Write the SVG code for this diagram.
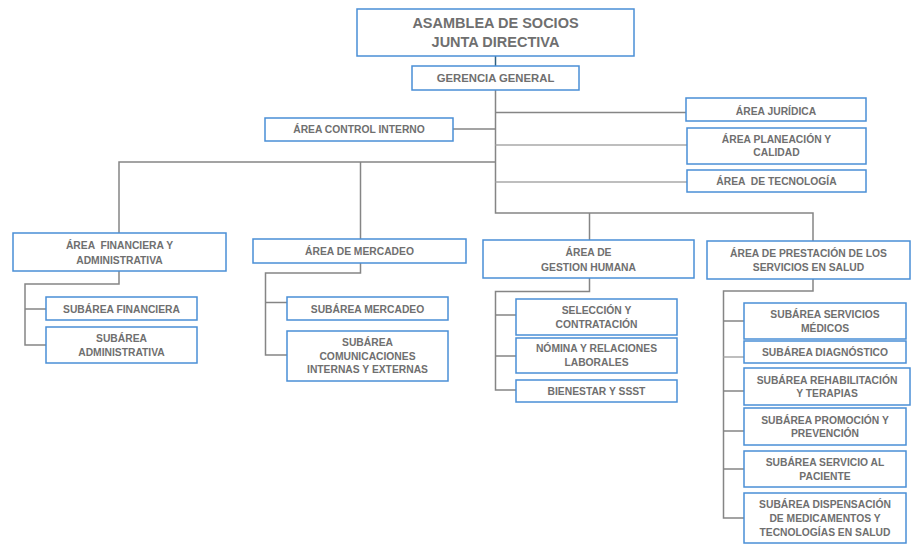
<svg xmlns="http://www.w3.org/2000/svg" width="911" height="544" viewBox="0 0 911 544">
<style>
.b{fill:#fff;stroke:#4A8FD6;stroke-width:1.5}
text{font-family:"Liberation Sans",Arial,sans-serif;font-weight:bold;fill:#6F6F6F;text-anchor:middle;font-size:10.3px}
.big{font-size:14.5px}
.mid{font-size:11.3px}
.c{fill:none;stroke:#858585;stroke-width:1.5}
.cl{fill:none;stroke:#A8A8A8;stroke-width:1.5}
.cd{fill:none;stroke:#2F5F7F;stroke-width:1.5}
</style>
<rect width="911" height="544" fill="#fff"/>
<g id="connectors">
<path class="cd" d="M495.5 56V66"/>
<path class="c" d="M495.5 90V213H813V241"/>
<path class="c" d="M495.5 112.5H686"/>
<path class="c" d="M453 129H495.5"/>
<path class="cl" d="M495.5 145H687"/>
<path class="cl" d="M495.5 182H687"/>
<path class="c" d="M495.5 162H119V233"/>
<path class="c" d="M360.5 162V239"/>
<path class="c" d="M589.5 213V240"/>
<path class="c" d="M119 271V284H25V345H46"/>
<path class="c" d="M25 309H46"/>
<path class="c" d="M360.5 263V273H265.5V355H287"/>
<path class="c" d="M265.5 302.5H287"/>
<path class="c" d="M589.5 278V291.5H495.5V390H516"/>
<path class="c" d="M495.5 315H516"/>
<path class="c" d="M495.5 356H516"/>
<path class="c" d="M813 279V291H723.5V518H744"/>
<path class="c" d="M723.5 321H744"/>
<path class="cl" d="M723.5 357H744"/>
<path class="c" d="M723.5 391H744"/>
<path class="c" d="M723.5 431H744"/>
<path class="c" d="M723.5 469H744"/>
</g>
<g id="asamblea"><rect class="b" x="357" y="9" width="277" height="47"/><text class="big" x="495.5" y="28">ASAMBLEA DE SOCIOS</text><text class="big" x="495.5" y="47">JUNTA DIRECTIVA</text></g>
<g id="gerencia"><rect class="b" x="412" y="66" width="167" height="24"/><text class="mid" x="495.5" y="82">GERENCIA GENERAL</text></g>
<g id="control"><rect class="b" x="265" y="118" width="188" height="23"/><text x="359" y="133">ÁREA CONTROL INTERNO</text></g>
<g id="juridica"><rect class="b" x="686" y="98" width="180" height="23"/><text x="776" y="114.5">ÁREA JURÍDICA</text></g>
<g id="planeacion"><rect class="b" x="687" y="128" width="179" height="36"/><text x="776.5" y="142.5">ÁREA PLANEACIÓN Y</text><text x="776.5" y="156">CALIDAD</text></g>
<g id="tecnologia"><rect class="b" x="687" y="170" width="179" height="22"/><text x="776.5" y="185" xml:space="preserve">ÁREA  DE TECNOLOGÍA</text></g>
<g id="financiera"><rect class="b" x="13" y="233" width="213" height="38"/><text x="119.5" y="249" xml:space="preserve">ÁREA  FINANCIERA Y</text><text x="119.5" y="264">ADMINISTRATIVA</text></g>
<g id="mercadeo"><rect class="b" x="253" y="239" width="213" height="24"/><text x="359.5" y="255">ÁREA DE MERCADEO</text></g>
<g id="gestion"><rect class="b" x="483" y="240" width="211" height="38"/><text x="588.5" y="256">ÁREA DE</text><text x="588.5" y="271">GESTION HUMANA</text></g>
<g id="prestacion"><rect class="b" x="707" y="241" width="203" height="38"/><text x="808.5" y="257">ÁREA DE PRESTACIÓN DE LOS</text><text x="808.5" y="271">SERVICIOS EN SALUD</text></g>
<g id="sub-financiera"><rect class="b" x="46" y="297" width="151" height="23"/><text x="121.5" y="313">SUBÁREA FINANCIERA</text></g>
<g id="sub-administrativa"><rect class="b" x="46" y="327" width="151" height="36"/><text x="121.5" y="341.5">SUBÁREA</text><text x="121.5" y="355.5">ADMINISTRATIVA</text></g>
<g id="sub-mercadeo"><rect class="b" x="287" y="297" width="161" height="23"/><text x="367.5" y="312.5">SUBÁREA MERCADEO</text></g>
<g id="sub-comunicaciones"><rect class="b" x="287" y="331" width="161" height="50"/><text x="367.5" y="345.5">SUBÁREA</text><text x="367.5" y="359.5">COMUNICACIONES</text><text x="367.5" y="373">INTERNAS Y EXTERNAS</text></g>
<g id="seleccion"><rect class="b" x="516" y="299" width="161" height="36"/><text x="596.5" y="314">SELECCIÓN Y</text><text x="596.5" y="327.5">CONTRATACIÓN</text></g>
<g id="nomina"><rect class="b" x="516" y="338" width="161" height="35"/><text x="596.5" y="351.5">NÓMINA Y RELACIONES</text><text x="596.5" y="365.5">LABORALES</text></g>
<g id="bienestar"><rect class="b" x="516" y="380" width="161" height="22"/><text x="596.5" y="394.5">BIENESTAR Y SSST</text></g>
<g id="servicios-medicos"><rect class="b" x="744" y="303" width="162" height="36"/><text x="825" y="318">SUBÁREA SERVICIOS</text><text x="825" y="332">MÉDICOS</text></g>
<g id="diagnostico"><rect class="b" x="744" y="341" width="162" height="22"/><text x="825" y="355.5">SUBÁREA DIAGNÓSTICO</text></g>
<g id="rehabilitacion"><rect class="b" x="744" y="368" width="166" height="37"/><text x="827" y="384">SUBÁREA REHABILITACIÓN</text><text x="827" y="396.5">Y TERAPIAS</text></g>
<g id="promocion"><rect class="b" x="744" y="408" width="162" height="37"/><text x="825" y="424">SUBÁREA PROMOCIÓN Y</text><text x="825" y="436.5">PREVENCIÓN</text></g>
<g id="paciente"><rect class="b" x="744" y="451" width="162" height="36"/><text x="825" y="466">SUBÁREA SERVICIO AL</text><text x="825" y="480">PACIENTE</text></g>
<g id="dispensacion"><rect class="b" x="744" y="493" width="162" height="50"/><text x="825" y="508">SUBÁREA DISPENSACIÓN</text><text x="825" y="522">DE MEDICAMENTOS Y</text><text x="825" y="536">TECNOLOGÍAS EN SALUD</text></g>
</svg>
